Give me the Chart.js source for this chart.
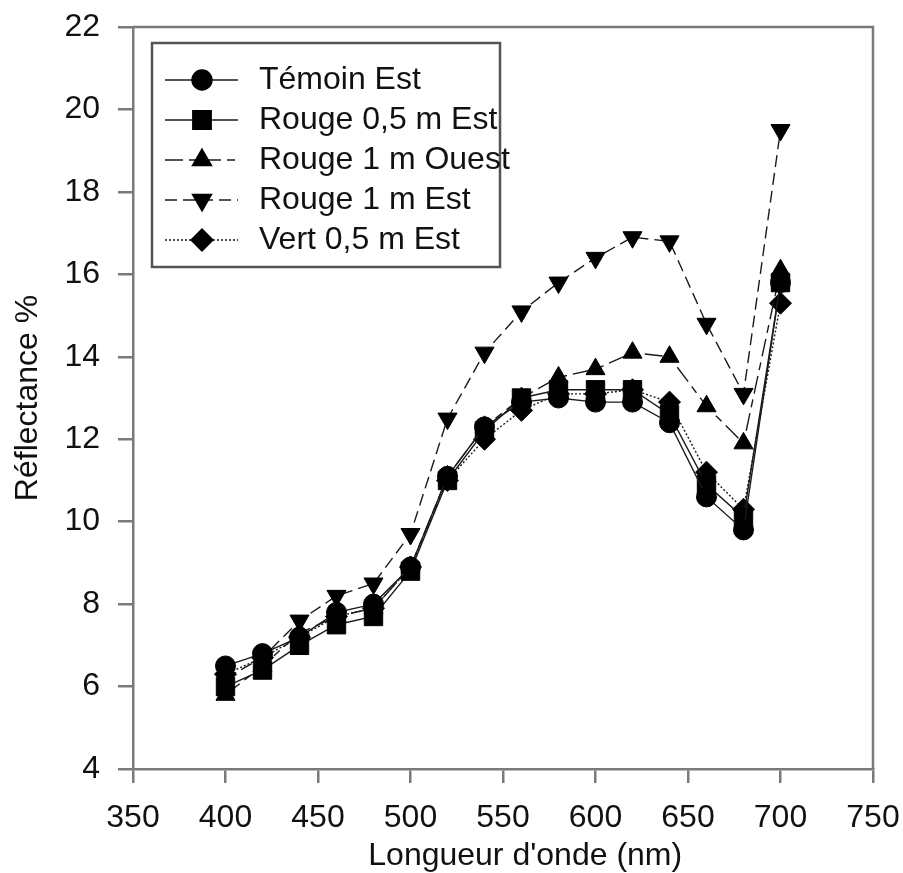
<!DOCTYPE html>
<html>
<head>
<meta charset="utf-8">
<script src="https://cdn.jsdelivr.net/npm/chart.js@4/dist/chart.umd.min.js"></script>
<style>
  body { margin: 0; background: #fff; }
  canvas { display: block; }
</style>
</head>
<body>
<canvas id="reflChart" width="903" height="873"></canvas>
<script>
// wavelengths (nm)
const wavelengths = [400, 420, 440, 460, 480, 500, 520, 540, 560, 580, 600, 620, 640, 660, 680, 700];

// reflectance % per treatment
const temoinEst = [6.5, 6.8, 7.2, 7.8, 8.0, 8.9, 11.1, 12.3, 12.9, 13.0, 12.9, 12.9, 12.4, 10.6, 9.8, 15.8];
const rouge05Est = [6.0, 6.4, 7.0, 7.5, 7.7, 8.8, 11.0, 12.2, 13.0, 13.2, 13.2, 13.2, 12.6, 10.9, 10.1, 15.8];
const rouge1Ouest = [5.8, 6.5, 7.3, 7.7, 7.9, 8.9, 11.1, 12.3, 13.0, 13.5, 13.7, 14.1, 14.0, 12.8, 11.9, 16.1];
const rouge1Est = [6.2, 6.7, 7.6, 8.2, 8.5, 9.7, 12.5, 14.1, 15.1, 15.8, 16.4, 16.9, 16.8, 14.8, 13.1, 19.5];
const vert05Est = [6.3, 6.7, 7.2, 7.7, 7.9, 8.9, 11.0, 12.0, 12.7, 13.1, 13.1, 13.2, 12.9, 11.2, 10.3, 15.3];

const seriesNames = ["Témoin Est", "Rouge 0,5 m Est", "Rouge 1 m Ouest", "Rouge 1 m Est", "Vert 0,5 m Est"];

const FONT = "'Liberation Sans', Arial, sans-serif";
const AXIS_GRAY = "#7a7a7a";
const LINE_COL = "#1a1a1a";

function toPoints(values) {
    return wavelengths.map((w, i) => ({ x: w, y: values[i] }));
}

function makeSet(label, values, style, radius, rotation, dash) {
    return {
        label: label,
        data: toPoints(values),
        borderColor: LINE_COL,
        borderWidth: 1.4,
        borderDash: dash,
        backgroundColor: "#000",
        pointStyle: style,
        pointRadius: radius,
        pointRotation: rotation,
        pointBackgroundColor: "#000",
        pointBorderColor: "#000",
        pointBorderWidth: 1,
        tension: 0,
        fill: false
    };
}

// draws the top/right sides of the frame
const framePlugin = {
    id: "frame",
    afterDraw(chart) {
        const { ctx, chartArea } = chart;
        ctx.save();
        ctx.strokeStyle = AXIS_GRAY;
        ctx.lineWidth = 2.5;
        ctx.beginPath();
        ctx.moveTo(chartArea.left, chartArea.top);
        ctx.lineTo(chartArea.right, chartArea.top);
        ctx.lineTo(chartArea.right, chartArea.bottom);
        ctx.stroke();
        ctx.restore();
    }
};

// boxed legend with line + marker samples
const boxLegend = {
    id: "boxLegend",
    afterDraw(chart) {
        const { ctx, chartArea } = chart;
        const bx = chartArea.left + 19, by = chartArea.top + 16;
        const bw = 348, bh = 224;
        ctx.save();
        ctx.strokeStyle = "#555";
        ctx.lineWidth = 2.5;
        ctx.fillStyle = "#fff";
        ctx.fillRect(bx, by, bw, bh);
        ctx.strokeRect(bx, by, bw, bh);

        chart.data.datasets.forEach((ds, i) => {
            const y = by + 37 + i * 40;
            ctx.strokeStyle = ds.borderColor;
            ctx.lineWidth = ds.borderWidth;
            ctx.setLineDash(ds.borderDash || []);
            ctx.beginPath();
            ctx.moveTo(bx + 13, y);
            ctx.lineTo(bx + 86, y);
            ctx.stroke();
            ctx.setLineDash([]);
            ctx.fillStyle = "#000";
            ctx.strokeStyle = "#000";
            Chart.helpers.drawPoint(ctx, {
                pointStyle: ds.pointStyle,
                rotation: ds.pointRotation,
                radius: ds.pointRadius,
                borderWidth: 1
            }, bx + 50, y);
            ctx.fillStyle = "#111";
            ctx.font = "32px " + FONT;
            ctx.textBaseline = "middle";
            ctx.fillText(ds.label, bx + 107, y);
        });
        ctx.restore();
    }
};

const ctx = document.getElementById("reflChart").getContext("2d");

new Chart(ctx, {
    type: "line",
    data: {
        datasets: [
            makeSet(seriesNames[0], temoinEst, "circle", 10, 0, []),
            makeSet(seriesNames[1], rouge05Est, "rect", 13, 0, []),
            makeSet(seriesNames[2], rouge1Ouest, "triangle", 11, 0, [18, 6, 8, 6]),
            makeSet(seriesNames[3], rouge1Est, "triangle", 11, 180, [12, 6]),
            makeSet(seriesNames[4], vert05Est, "rectRot", 11, 0, [2, 2])
        ]
    },
    options: {
        responsive: false,
        animation: false,
        layout: { padding: { top: 27, right: 30, left: 0, bottom: 0 } },
        plugins: {
            legend: { display: false },
            tooltip: { enabled: false }
        },
        scales: {
            x: {
                type: "linear",
                min: 350,
                max: 750,
                afterFit: s => { s.height = 104; s.paddingLeft = 0; s.paddingRight = 0; },
                ticks: {
                    stepSize: 50,
                    padding: 16,
                    color: "#111",
                    font: { family: FONT, size: 32 },
                    maxRotation: 0
                },
                grid: {
                    drawOnChartArea: false,
                    drawTicks: true,
                    tickLength: 14,
                    color: AXIS_GRAY,
                    lineWidth: 2.5
                },
                border: { display: true, color: AXIS_GRAY, width: 2.5 },
                title: {
                    display: true,
                    text: "     Longueur d'onde (nm)",
                    color: "#111",
                    font: { family: FONT, size: 32, lineHeight: 1 },
                    padding: { top: 0, bottom: 1 }
                }
            },
            y: {
                min: 4,
                max: 22,
                afterFit: s => { s.width = 133; s.paddingTop = 0; s.paddingBottom = 0; },
                ticks: {
                    stepSize: 2,
                    padding: 18,
                    color: "#111",
                    font: { family: FONT, size: 32 }
                },
                grid: {
                    drawOnChartArea: false,
                    drawTicks: true,
                    tickLength: 15,
                    color: AXIS_GRAY,
                    lineWidth: 2.5
                },
                border: { display: true, color: AXIS_GRAY, width: 2.5 },
                title: {
                    display: true,
                    text: "Réflectance %",
                    color: "#111",
                    font: { family: FONT, size: 32, lineHeight: 1 },
                    padding: { top: 12, bottom: 0 }
                }
            }
        }
    },
    plugins: [framePlugin, boxLegend]
});
</script>
</body>
</html>
